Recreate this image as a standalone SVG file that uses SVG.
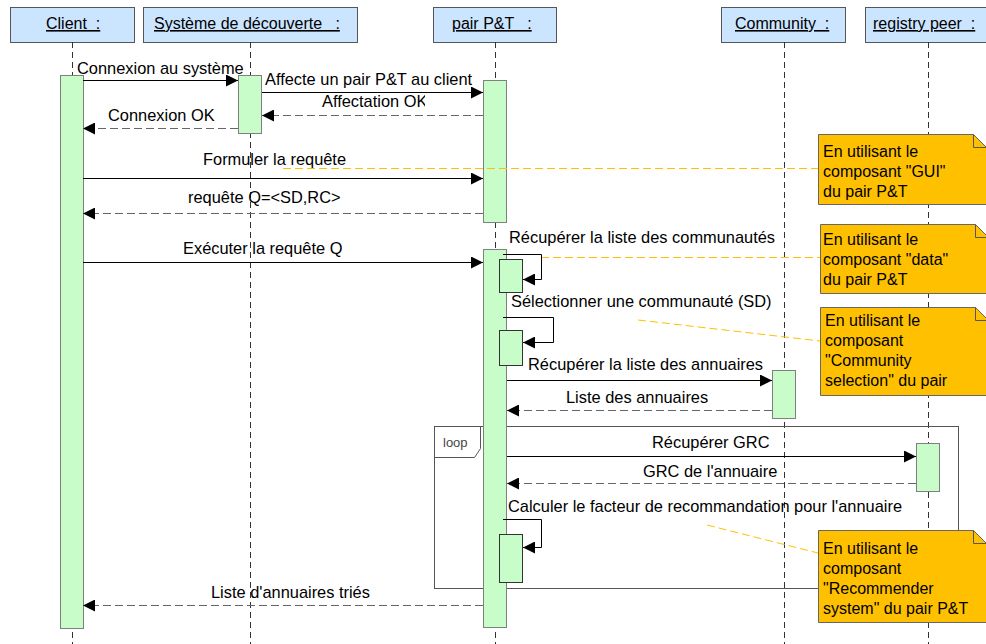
<svg xmlns="http://www.w3.org/2000/svg" width="986" height="644" viewBox="0 0 986 644">
<defs>
<style>
text{font-family:"Liberation Sans",Arial,sans-serif;font-size:16px;fill:#000;white-space:pre}
.m{font-size:16.4px}
.hdr{fill:#CCE5FF;stroke:#555;stroke-width:1}
.hl{text-decoration:underline}
.life{stroke:#333;stroke-width:1;stroke-dasharray:6,4;fill:none}
.bar{fill:#C8FCC8;stroke:#808080;stroke-width:1}
.sbar{fill:#C8FCC8;stroke:#333;stroke-width:1}
.msg{stroke:#000;stroke-width:1;fill:none;marker-end:url(#ah)}
.ret{stroke:#666;stroke-width:1;stroke-dasharray:8,4;fill:none;marker-end:url(#ah)}
.note{fill:#FFC000;stroke:#666;stroke-width:1}
.nl{stroke:#FFC000;stroke-width:1;stroke-dasharray:8,4;fill:none}
.frame{fill:none;stroke:#555;stroke-width:1}
</style>
<marker id="ah" markerUnits="userSpaceOnUse" markerWidth="12" markerHeight="12" refX="12" refY="6" orient="auto">
<path d="M0,0 L12,6 L0,12 Z" fill="#000"/>
</marker>
<clipPath id="clipAff"><rect x="300" y="90" width="125" height="25"/></clipPath>
</defs>
<rect width="986" height="644" fill="#fff"/>

<g id="client">
<rect class="hdr" x="10.5" y="7.5" width="124" height="35"/>
<text class="hl" x="46" y="29">Client  :</text>
<line class="life" x1="72.5" y1="42" x2="72.5" y2="644"/>
</g>
<g id="systeme">
<rect class="hdr" x="143.5" y="7.5" width="214" height="35"/>
<text class="hl" x="154" y="29">Système de découverte   :</text>
<line class="life" x1="250.5" y1="42" x2="250.5" y2="644"/>
</g>
<g id="pair">
<rect class="hdr" x="433.5" y="7.5" width="123" height="35"/>
<text class="hl" x="452" y="29">pair P&amp;T   :</text>
<line class="life" x1="495.5" y1="42" x2="495.5" y2="644"/>
</g>
<g id="community">
<rect class="hdr" x="721.5" y="7.5" width="124" height="35"/>
<text class="hl" x="735" y="29">Community  :</text>
<line class="life" x1="784.5" y1="42" x2="784.5" y2="644"/>
</g>
<g id="registry">
<rect class="hdr" x="865.5" y="7.5" width="125" height="35"/>
<text class="hl" x="873" y="29">registry peer  :</text>
<line class="life" x1="928.5" y1="42" x2="928.5" y2="644"/>
</g>

<g id="loop">
<rect class="frame" x="434.5" y="426.5" width="524" height="162"/>
<path class="frame" d="M434.5,457.5 H474.5 L480.5,448.5 V426.5"/>
<text x="443" y="447" style="font-size:13px;fill:#444">loop</text>
</g>

<g id="activations">
<rect class="bar" x="60.5" y="75.5" width="23" height="553"/>
<rect class="bar" x="238.5" y="75.5" width="23" height="58"/>
<rect class="bar" x="483.5" y="80.5" width="23" height="142"/>
<rect class="bar" x="483.5" y="249.5" width="23" height="378"/>
<rect class="sbar" x="499.5" y="259.5" width="23" height="33"/>
<rect class="sbar" x="499.5" y="330.5" width="23" height="35"/>
<rect class="sbar" x="499.5" y="534.5" width="23" height="48"/>
<rect class="bar" x="772.5" y="370.5" width="23" height="48"/>
<rect class="bar" x="916.5" y="443.5" width="23" height="48"/>
</g>

<g id="note-links">
<line class="nl" x1="283" y1="168.5" x2="818" y2="168.5"/>
<line class="nl" x1="541" y1="257.5" x2="820" y2="257.5"/>
<line class="nl" x1="638" y1="320" x2="820" y2="341"/>
<line class="nl" x1="707" y1="525" x2="818" y2="553"/>
</g>

<g id="connectors">
<line class="msg" x1="83" y1="80.5" x2="238" y2="80.5"/>
<text class="m" x="77" y="74">Connexion au système</text>
<line class="msg" x1="262" y1="92.5" x2="483" y2="92.5"/>
<text class="m" x="265" y="85">Affecte un pair P&amp;T au client</text>
<line class="ret" x1="483" y1="115.5" x2="262" y2="115.5"/>
<text class="m" x="322" y="107" clip-path="url(#clipAff)">Affectation OK</text>
<line class="ret" x1="238" y1="128.5" x2="83" y2="128.5"/>
<text class="m" x="108" y="121">Connexion OK</text>
<line class="msg" x1="83" y1="178.5" x2="483" y2="178.5"/>
<text class="m" x="203" y="165">Formuler la requête</text>
<line class="ret" x1="483" y1="213.5" x2="83" y2="213.5"/>
<text class="m" x="188" y="203">requête Q=&lt;SD,RC&gt;</text>
<line class="msg" x1="83" y1="262.5" x2="483" y2="262.5"/>
<text class="m" x="183" y="254">Exécuter la requête Q</text>
<path class="msg" d="M503,254.5 H541.5 V279.5 H523"/>
<text class="m" x="509" y="243">Récupérer la liste des communautés</text>
<path class="msg" d="M503,317.5 H553.5 V342.5 H523"/>
<text class="m" x="511" y="307">Sélectionner une communauté (SD)</text>
<line class="msg" x1="507" y1="380.5" x2="772" y2="380.5"/>
<text class="m" x="528" y="370">Récupérer la liste des annuaires</text>
<line class="ret" x1="772" y1="410.5" x2="507" y2="410.5"/>
<text class="m" x="566" y="403">Liste des annuaires</text>
<line class="msg" x1="507" y1="456.5" x2="916" y2="456.5"/>
<text class="m" x="652" y="448">Récupérer GRC</text>
<line class="ret" x1="916" y1="483.5" x2="507" y2="483.5"/>
<text class="m" x="643" y="477">GRC de l'annuaire</text>
<path class="msg" d="M503,519.5 H541.5 V547.5 H523"/>
<text class="m" x="508" y="512">Calculer le facteur de recommandation pour l'annuaire</text>
<line class="ret" x1="483" y1="605.5" x2="83" y2="605.5"/>
<text class="m" x="211" y="598">Liste d'annuaires triés</text>
</g>

<g id="note-gui">
<path class="note" d="M818.5,134.5 H973.5 L986.5,147.5 V204.5 H818.5 Z"/>
<path class="frame" d="M973.5,134.5 V147.5 H986.5"/>
<text x="823" y="157">En utilisant le</text>
<text x="823" y="177">composant "GUI"</text>
<text x="823" y="197">du pair P&amp;T</text>
</g>
<g id="note-data">
<path class="note" d="M820.5,224.5 H975.5 L988.5,237.5 V293.5 H820.5 Z"/>
<path class="frame" d="M975.5,224.5 V237.5 H988.5"/>
<text x="823" y="245">En utilisant le</text>
<text x="823" y="265">composant "data"</text>
<text x="823" y="285">du pair P&amp;T</text>
</g>
<g id="note-community">
<path class="note" d="M820.5,307.5 H975.5 L988.5,320.5 V395.5 H820.5 Z"/>
<path class="frame" d="M975.5,307.5 V320.5 H988.5"/>
<text x="825" y="326">En utilisant le</text>
<text x="825" y="346">composant</text>
<text x="825" y="366">"Community</text>
<text x="825" y="386">selection" du pair</text>
</g>
<g id="note-recommender">
<path class="note" d="M818.5,530.5 H973.5 L986.5,543.5 V622.5 H818.5 Z"/>
<path class="frame" d="M973.5,530.5 V543.5 H986.5"/>
<text x="823" y="554">En utilisant le</text>
<text x="823" y="574">composant</text>
<text x="823" y="594">"Recommender</text>
<text x="823" y="614">system" du pair P&amp;T</text>
</g>
</svg>
